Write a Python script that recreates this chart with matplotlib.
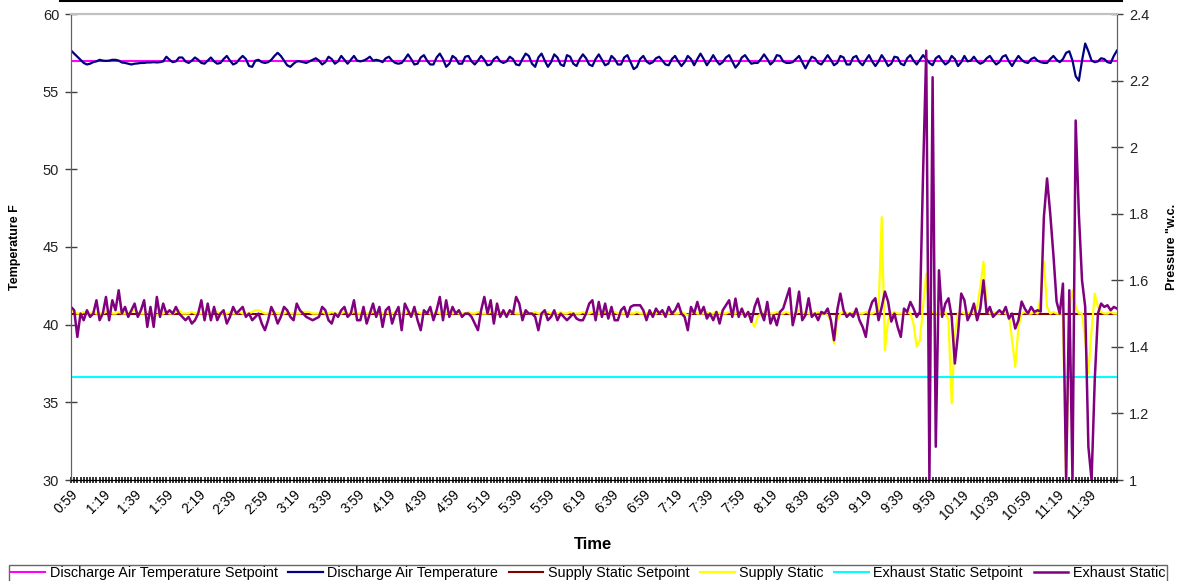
import numpy as np
import matplotlib
matplotlib.use("Agg")
from matplotlib import pyplot as plt
from matplotlib.lines import Line2D

plt.rcParams['font.family'] = ['Liberation Sans', 'DejaVu Sans']

# trend log: one sample every 2 minutes starting at 0:59
START_MIN = 59
STEP_MIN = 2

DAT_SETPOINT = 57.0       # F
SUPPLY_SETPOINT = 1.50    # "w.c.
EXHAUST_SETPOINT = 1.31   # "w.c.

DISCHARGE_TEMP = [
    57.65, 57.45, 57.25, 57.05, 56.85, 56.75, 56.8, 56.9, 56.95, 57.05, 57.0, 56.98, 57.0, 57.05, 57.05,
    57.0, 56.88, 56.85, 56.8, 56.75, 56.8, 56.82, 56.85, 56.85, 56.88, 56.88, 56.9, 56.88, 56.9, 56.95,
    57.25, 57.05, 56.9, 56.95, 57.2, 57.2, 56.95, 56.85, 57.0, 57.2, 57.05, 56.85, 56.8, 57.0, 57.2,
    56.95, 56.8, 56.85, 57.1, 57.3, 57.0, 56.75, 56.85, 57.1, 57.3, 57.1, 56.65, 56.6, 57.0, 57.05,
    56.9, 56.85, 56.9, 57.05, 57.3, 57.5, 57.3, 57.0, 56.7, 56.6, 56.8, 56.95, 56.95, 56.9, 56.85,
    56.95, 57.05, 57.15, 57.0, 56.75, 56.9, 57.25, 57.1, 56.8, 56.95, 57.3, 57.05, 56.8, 57.05, 57.3,
    57.0, 56.95, 57.0, 57.1, 57.25, 57.0, 57.05, 57.0, 56.9, 57.15, 57.25, 57.0, 56.85, 56.8, 56.85,
    57.1, 57.4, 57.1, 56.75, 56.8, 57.2, 57.35, 57.0, 56.75, 56.75, 57.2, 57.45, 57.1, 56.6, 56.8,
    57.3, 57.15, 56.8, 56.8, 57.25, 57.3, 56.95, 56.75, 57.0, 57.3, 57.05, 56.7, 56.75, 57.1, 57.25,
    56.95, 56.85, 56.95, 57.25, 57.1, 56.75, 56.7, 57.1, 57.45, 57.3, 56.8, 56.6, 57.2, 57.45, 57.0,
    56.6, 56.9, 57.4, 57.2, 56.75, 56.65, 57.35, 57.25, 56.8, 56.65, 57.1, 57.4, 57.15, 56.75, 56.65,
    57.1, 57.4, 57.05, 56.7, 56.8, 57.3, 57.1, 56.75, 56.75, 57.2, 57.35, 56.9, 56.45, 56.6, 57.1,
    57.3, 56.95, 56.8, 56.9, 57.15, 57.25, 57.0, 56.75, 56.7, 57.1, 57.3, 56.95, 56.65, 56.9, 57.3,
    57.1, 56.7, 57.1, 57.45, 57.1, 56.7, 57.0, 57.35, 57.0, 56.75, 56.9, 57.2, 57.35, 56.95, 56.55,
    56.8, 57.2, 57.35, 57.05, 56.8, 56.85, 56.85, 57.1, 57.4, 57.1, 56.75, 56.95, 57.35, 57.3, 56.95,
    56.85, 56.85, 56.9, 57.1, 57.3, 56.9, 56.5, 56.9, 57.25, 57.15, 56.85, 56.75, 57.05, 57.35, 57.05,
    56.7, 56.85, 57.3, 57.2, 56.75, 56.75, 57.2, 57.3, 56.9, 56.7, 57.05, 57.35, 56.95, 56.65, 56.95,
    57.35, 57.05, 56.65, 56.8, 57.25, 57.2, 56.8, 56.7, 57.15, 57.35, 57.0, 56.75, 57.05, 57.35, 57.1,
    56.85, 56.7, 57.15, 57.3, 57.0, 56.75, 56.9, 57.3, 57.1, 56.65, 56.9, 57.3, 56.95, 57.0, 57.25,
    56.95, 56.8, 56.9, 57.15, 57.3, 57.0, 56.75, 56.9, 57.25, 57.35, 56.95, 56.65, 57.0, 57.3, 57.05,
    56.9, 56.85, 57.1, 57.2, 57.0, 56.9, 56.85, 56.85, 57.1, 57.3, 57.05, 56.9, 57.1, 57.5, 57.6,
    57.0, 56.0, 55.7, 57.0, 58.1, 57.6, 57.0, 56.9, 56.95, 57.15, 57.1, 56.9, 56.85, 57.3, 57.65,
]

SUPPLY_STATIC = [
    1.51, 1.505, 1.50, 1.50, 1.505, 1.50, 1.50, 1.505, 1.50, 1.50, 1.50, 1.505, 1.51, 1.50, 1.50,
    1.505, 1.50, 1.50, 1.50, 1.505, 1.51, 1.50, 1.50, 1.50, 1.505, 1.50, 1.50, 1.495, 1.50, 1.50,
    1.505, 1.50, 1.50, 1.505, 1.51, 1.50, 1.50, 1.50, 1.505, 1.50, 1.50, 1.50, 1.505, 1.50, 1.50,
    1.51, 1.505, 1.50, 1.50, 1.50, 1.505, 1.50, 1.50, 1.505, 1.50, 1.50, 1.50, 1.505, 1.51, 1.51,
    1.505, 1.50, 1.50, 1.50, 1.505, 1.50, 1.50, 1.50, 1.505, 1.50, 1.50, 1.50, 1.50, 1.505, 1.505,
    1.505, 1.50, 1.50, 1.50, 1.505, 1.50, 1.50, 1.505, 1.50, 1.50, 1.50, 1.505, 1.50, 1.50, 1.505,
    1.50, 1.50, 1.505, 1.50, 1.50, 1.505, 1.50, 1.50, 1.50, 1.505, 1.50, 1.50, 1.505, 1.50, 1.50,
    1.50, 1.505, 1.50, 1.50, 1.505, 1.50, 1.50, 1.505, 1.50, 1.50, 1.505, 1.50, 1.50, 1.50, 1.505,
    1.50, 1.505, 1.50, 1.50, 1.50, 1.505, 1.50, 1.50, 1.505, 1.50, 1.50, 1.50, 1.505, 1.50, 1.50,
    1.505, 1.50, 1.50, 1.50, 1.505, 1.50, 1.50, 1.50, 1.505, 1.50, 1.50, 1.505, 1.50, 1.50, 1.50,
    1.505, 1.50, 1.50, 1.50, 1.505, 1.50, 1.50, 1.505, 1.50, 1.50, 1.50, 1.505, 1.50, 1.50, 1.505,
    1.50, 1.50, 1.50, 1.505, 1.50, 1.50, 1.505, 1.50, 1.50, 1.50, 1.505, 1.50, 1.50, 1.505, 1.50,
    1.50, 1.50, 1.505, 1.50, 1.50, 1.505, 1.50, 1.50, 1.50, 1.505, 1.50, 1.50, 1.505, 1.50, 1.495,
    1.50, 1.505, 1.50, 1.50, 1.50, 1.505, 1.50, 1.50, 1.505, 1.50, 1.50, 1.50, 1.505, 1.50, 1.50,
    1.505, 1.50, 1.50, 1.50, 1.48, 1.46, 1.49, 1.50, 1.505, 1.50, 1.50, 1.50, 1.505, 1.50, 1.50,
    1.505, 1.50, 1.50, 1.50, 1.51, 1.50, 1.505, 1.50, 1.50, 1.50, 1.505, 1.50, 1.50, 1.495, 1.48,
    1.41, 1.48, 1.50, 1.505, 1.50, 1.50, 1.505, 1.50, 1.50, 1.50, 1.505, 1.50, 1.50, 1.505, 1.51,
    1.79, 1.39, 1.48, 1.50, 1.505, 1.50, 1.50, 1.50, 1.505, 1.50, 1.47, 1.40, 1.42, 1.52, 1.62,
    1.50, 1.505, 1.50, 1.50, 1.50, 1.505, 1.48, 1.23, 1.44, 1.50, 1.505, 1.50, 1.50, 1.505, 1.50,
    1.52, 1.58, 1.656, 1.52, 1.50, 1.505, 1.50, 1.50, 1.505, 1.50, 1.50, 1.42, 1.34, 1.46, 1.50,
    1.505, 1.50, 1.50, 1.505, 1.50, 1.55, 1.656, 1.52, 1.50, 1.505, 1.50, 1.50, 1.50, 1.0, 1.50,
    1.57, 1.52, 1.50, 1.50, 1.42, 1.32, 1.45, 1.56, 1.52, 1.505, 1.50, 1.50, 1.505, 1.50, 1.50,
]

EXHAUST_STATIC = [
    1.52, 1.51, 1.43, 1.50, 1.48, 1.51, 1.49, 1.50, 1.54, 1.48, 1.50, 1.55, 1.48, 1.54, 1.51,
    1.57, 1.50, 1.52, 1.49, 1.51, 1.53, 1.49, 1.51, 1.54, 1.46, 1.52, 1.46, 1.55, 1.49, 1.53,
    1.50, 1.51, 1.50, 1.52, 1.50, 1.49, 1.48, 1.49, 1.47, 1.48, 1.50, 1.54, 1.48, 1.53, 1.48,
    1.52, 1.48, 1.50, 1.51, 1.47, 1.49, 1.52, 1.50, 1.51, 1.52, 1.49, 1.50, 1.48, 1.49, 1.50,
    1.47, 1.45, 1.48, 1.52, 1.50, 1.47, 1.49, 1.52, 1.51, 1.49, 1.48, 1.53, 1.51, 1.50, 1.49,
    1.485, 1.48, 1.485, 1.49, 1.52, 1.51, 1.48, 1.47, 1.50, 1.49, 1.51, 1.52, 1.49, 1.50, 1.54,
    1.48, 1.48, 1.52, 1.47, 1.50, 1.53, 1.49, 1.52, 1.46, 1.51, 1.52, 1.47, 1.50, 1.52, 1.45,
    1.53, 1.51, 1.49, 1.52, 1.48, 1.45, 1.51, 1.50, 1.52, 1.48, 1.51, 1.55, 1.48, 1.54, 1.49,
    1.52, 1.50, 1.51, 1.49, 1.50, 1.50, 1.49, 1.47, 1.45, 1.51, 1.55, 1.50, 1.54, 1.47, 1.53,
    1.49, 1.51, 1.49, 1.51, 1.50, 1.55, 1.53, 1.48, 1.51, 1.50, 1.50, 1.49, 1.45, 1.50, 1.51,
    1.48, 1.49, 1.51, 1.48, 1.50, 1.49, 1.48, 1.49, 1.50, 1.485, 1.48, 1.48, 1.50, 1.53, 1.54,
    1.48, 1.535, 1.49, 1.53, 1.485, 1.52, 1.48, 1.48, 1.51, 1.52, 1.49, 1.52, 1.525, 1.525, 1.525,
    1.51, 1.48, 1.51, 1.49, 1.515, 1.50, 1.51, 1.49, 1.52, 1.50, 1.51, 1.53, 1.50, 1.49, 1.45,
    1.52, 1.50, 1.535, 1.50, 1.52, 1.485, 1.50, 1.48, 1.505, 1.47, 1.51, 1.525, 1.54, 1.49, 1.545,
    1.49, 1.515, 1.49, 1.505, 1.475, 1.52, 1.545, 1.505, 1.48, 1.535, 1.47, 1.495, 1.465, 1.505, 1.515,
    1.545, 1.576, 1.465, 1.505, 1.566, 1.48, 1.495, 1.546, 1.49, 1.50, 1.48, 1.505, 1.50, 1.515, 1.48,
    1.42, 1.51, 1.56, 1.51, 1.49, 1.50, 1.49, 1.515, 1.48, 1.46, 1.43, 1.505, 1.535, 1.546, 1.48,
    1.52, 1.566, 1.536, 1.476, 1.50, 1.46, 1.43, 1.515, 1.505, 1.535, 1.515, 1.49, 1.505, 1.92, 2.29,
    1.0, 2.21, 1.10, 1.63, 1.49, 1.53, 1.546, 1.49, 1.35, 1.44, 1.56, 1.54, 1.48, 1.50, 1.53,
    1.48, 1.515, 1.60, 1.50, 1.52, 1.49, 1.50, 1.51, 1.50, 1.52, 1.485, 1.50, 1.455, 1.48, 1.536,
    1.515, 1.50, 1.52, 1.505, 1.51, 1.506, 1.79, 1.906, 1.80, 1.676, 1.536, 1.50, 1.59, 1.0, 1.57,
    1.0, 2.08, 1.80, 1.60, 1.52, 1.10, 1.0, 1.30, 1.50, 1.53, 1.52, 1.525, 1.51, 1.52, 1.515,
]

TIME_LABELS = ["0:59", "1:19", "1:39", "1:59", "2:19", "2:39", "2:59", "3:19", "3:39",
               "3:59", "4:19", "4:39", "4:59", "5:19", "5:39", "5:59", "6:19", "6:39",
               "6:59", "7:19", "7:39", "7:59", "8:19", "8:39", "8:59", "9:19", "9:39",
               "9:59", "10:19", "10:39", "10:59", "11:19", "11:39"]
LABEL_EVERY = 10  # one label per 10 samples (20 min)


def times_for(series):
    return START_MIN + STEP_MIN * np.arange(len(series))


def main():
    W, H = 1183, 581
    fig = plt.figure(figsize=(W / 100, H / 100), dpi=100)
    ax = fig.add_axes([71 / W, 1 - 480 / H, 1046 / W, 466 / H])
    ax2 = ax.twinx()

    t = times_for(DISCHARGE_TEMP)
    h1, = ax.plot(t, np.full(len(t), DAT_SETPOINT), color="#FF00FF", lw=1.5,
                  label="Discharge Air Temperature Setpoint")
    h2, = ax.plot(t, DISCHARGE_TEMP, color="#000080", lw=1.6,
                  label="Discharge Air Temperature")

    ts = times_for(SUPPLY_STATIC)
    te = times_for(EXHAUST_STATIC)
    h3, = ax2.plot(ts, np.full(len(ts), SUPPLY_SETPOINT), color="#800000", lw=1.5,
                   label="Supply Static Setpoint")
    h4, = ax2.plot(ts, SUPPLY_STATIC, color="#FFFF00", lw=1.6, label="Supply Static")
    h5, = ax2.plot(te, np.full(len(te), EXHAUST_SETPOINT), color="#00FFFF", lw=1.5,
                   label="Exhaust Static Setpoint")
    h6, = ax2.plot(te, EXHAUST_STATIC, color="#800080", lw=1.8, label="Exhaust Static")

    ax.set_xlim(t[0], t[-1])
    ax.set_ylim(30, 60)
    ax2.set_ylim(1, 2.4)
    ax.set_yticks(np.arange(30, 61, 5))
    ax2.set_yticks([1, 1.2, 1.4, 1.6, 1.8, 2, 2.2, 2.4])
    ax2.set_yticklabels(["1", "1.2", "1.4", "1.6", "1.8", "2", "2.2", "2.4"])

    ax.set_xticks(t, minor=True)
    ax.set_xticks(t[::LABEL_EVERY][:len(TIME_LABELS)])
    ax.set_xticklabels(TIME_LABELS, rotation=45, ha="right", va="top",
                       rotation_mode="anchor")

    ax.tick_params(axis="x", which="both", direction="inout", length=5, width=1.1,
                   color="black", labelsize=10, pad=3)
    ax.tick_params(axis="y", direction="inout", length=9, width=1, color="#404040",
                   labelsize=10.5, labelcolor="#222222", pad=4)
    ax2.tick_params(axis="y", direction="inout", length=9, width=1, color="#404040",
                    labelsize=10.5, labelcolor="#222222", pad=4)
    for a in (ax, ax2):
        a.spines["top"].set_color("#c0c0c0")
        a.spines["top"].set_linewidth(1.5)
        a.spines["left"].set_color("#606060")
        a.spines["right"].set_color("#606060")
        a.spines["bottom"].set_color("black")

    ax.set_ylabel("Temperature F", fontsize=9, fontweight="bold")
    ax.yaxis.set_label_coords(-0.0478, 0.5)
    ax2.set_ylabel('Pressure "w.c.', fontsize=9, fontweight="bold")
    ax2.yaxis.set_label_coords(1.047, 0.5)
    ax.set_xlabel("Time", fontsize=12, fontweight="bold")
    ax.xaxis.set_label_coords(0.499, -0.122)

    # top border of the chart area
    fig.add_artist(Line2D([60 / W, 1122 / W], [0.999, 0.999], color="black", lw=1.5,
                          transform=fig.transFigure))

    leg = fig.legend(handles=[h1, h2, h3, h4, h5, h6], loc="upper left",
                     bbox_to_anchor=(9 / W, 1 - 565 / H), ncol=6, fontsize=10.4,
                     frameon=True, fancybox=False, edgecolor="#404040",
                     handlelength=2.4, handletextpad=0.32, columnspacing=0.72,
                     borderpad=0.1, borderaxespad=0)
    leg.get_frame().set_linewidth(1.0)

    fig.savefig("out.png", dpi=100)


if __name__ == "__main__":
    main()
